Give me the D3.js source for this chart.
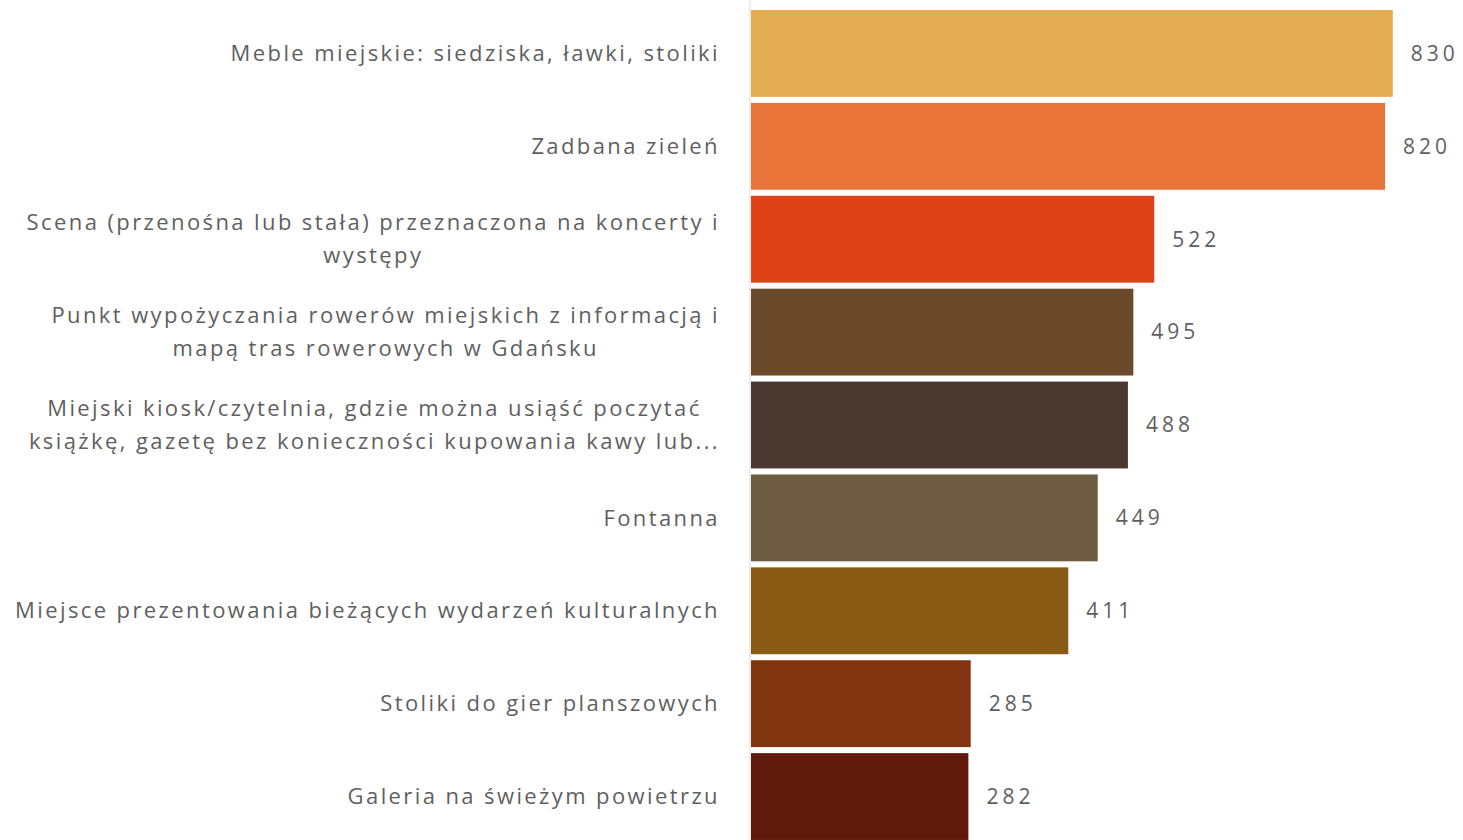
<!DOCTYPE html>
<html>
<head>
<meta charset="utf-8">
<script src="https://cdn.jsdelivr.net/npm/d3@7"></script>
<style>
  body { margin: 0; background: #fff; }
  text { font-family: "Open Sans", sans-serif; fill: #5f5f5f; }
</style>
</head>
<body>
<svg width="1463" height="840"></svg>
<script>
var width = 1463
var height = 840

// categories, top to bottom ("\n" = line break as in the original)
var categories = [
  "Meble miejskie: siedziska, ławki, stoliki",
  "Zadbana zieleń",
  "Scena (przenośna lub stała) przeznaczona na koncerty i\nwystępy",
  "Punkt wypożyczania rowerów miejskich z informacją i\nmapą tras rowerowych w Gdańsku",
  "Miejski kiosk/czytelnia, gdzie można usiąść poczytać\nksiążkę, gazetę bez konieczności kupowania kawy lub...",
  "Fontanna",
  "Miejsce prezentowania bieżących wydarzeń kulturalnych",
  "Stoliki do gier planszowych",
  "Galeria na świeżym powietrzu"
]
var values = [830, 820, 522, 495, 488, 449, 411, 285, 282]
var colors = ["#e4ac52", "#e8743a", "#df4217", "#6b4a2b", "#4b3830", "#6d5c41", "#8a5a15", "#80350f", "#5f1a0b"]

var axisX = 750

var svg = d3.select("svg")

var x = d3.scaleLinear().domain([0, 900]).range([axisX, 1447])
var y = d3.scaleBand().domain(categories).range([7, 843]).paddingInner(0.065).paddingOuter(0.0325)

// bars
svg.selectAll(".bar")
  .data(categories)
  .enter().append("rect")
    .attr("class", "bar")
    .attr("x", x(0) + 1)
    .attr("y", function(d) { return y(d) })
    .attr("width", function(d, i) { return x(values[i]) - x(0) - 1 })
    .attr("height", y.bandwidth())
    .attr("fill", function(d, i) { return colors[i] })

// vertical axis line
var axis = svg.append("g")
    .attr("transform", "translate(" + axisX + ",0)")
    .call(d3.axisLeft(y).tickSize(0).tickFormat(""))
axis.select(".domain").attr("stroke", "#d9d9d9").attr("d", "M0,0V" + height)

// category labels
var labelRight = 720
svg.selectAll(".cat")
  .data(categories)
  .enter().append("text")
    .attr("class", "cat")
    .style("font-size", "22px")
    .style("letter-spacing", "2.4px")
    .each(function(d) {
      var t = d3.select(this)
      var lines = d.split("\n")
      var cy = y(d) + y.bandwidth() / 2
      var lh = 33
      lines.forEach(function(l, j) {
        t.append("tspan")
          .attr("y", cy + (j - (lines.length - 1) / 2) * lh)
          .attr("dy", "0.35em")
          .text(l)
      })
      var maxW = 0
      t.selectAll("tspan").each(function() { maxW = Math.max(maxW, this.getComputedTextLength()) })
      if (lines.length > 1) {
        t.attr("text-anchor", "middle")
        t.selectAll("tspan").attr("x", labelRight - maxW / 2)
      } else {
        t.attr("text-anchor", "end")
        t.selectAll("tspan").attr("x", labelRight)
      }
    })

// value labels
svg.selectAll(".val")
  .data(categories)
  .enter().append("text")
    .attr("class", "val")
    .attr("x", function(d, i) { return x(values[i]) + 18 })
    .attr("y", function(d) { return y(d) + y.bandwidth() / 2 })
    .attr("dy", "0.35em")
    .style("font-size", "21px")
    .style("letter-spacing", "4px")
    .text(function(d, i) { return values[i] })
</script>
</body>
</html>
